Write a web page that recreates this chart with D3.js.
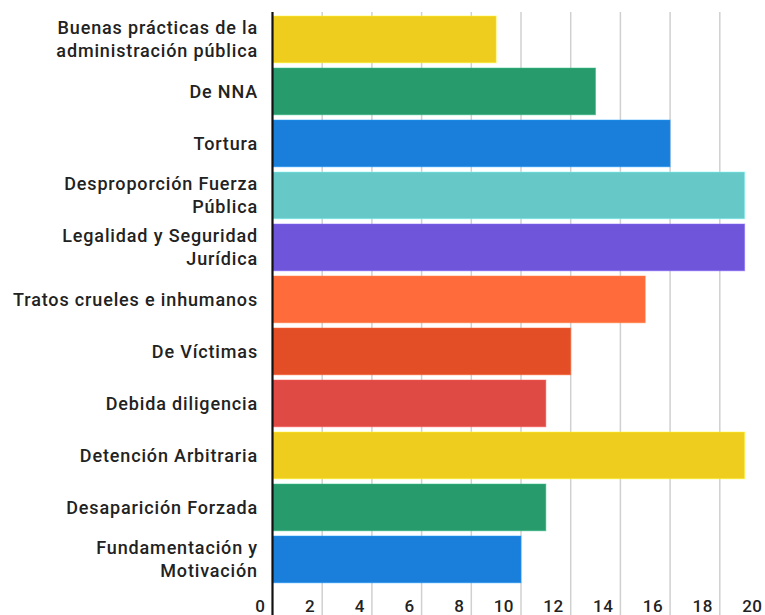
<!DOCTYPE html>
<html>
<head>
<meta charset="utf-8">
<script src="https://cdn.jsdelivr.net/npm/d3@7"></script>
<style>
    html, body { margin: 0; padding: 0; background: #fff; }
    svg { display: block; font-family: Roboto, "Noto Sans", sans-serif; }
    .cat-label { font-size: 18px; font-weight: 500; fill: #222; letter-spacing: 0.85px; }
    .tick-label { font-size: 17px; font-weight: 500; fill: #222; letter-spacing: 0.5px; }
</style>
</head>
<body>
<svg id="chart" width="765" height="615"></svg>
<script>
"use strict";

// categories, top to bottom; '\n' marks where the label wraps
const categories = [
    'Buenas prácticas de la\nadministración pública',
    'De NNA',
    'Tortura',
    'Desproporción Fuerza\nPública',
    'Legalidad y Seguridad\nJurídica',
    'Tratos crueles e inhumanos',
    'De Víctimas',
    'Debida diligencia',
    'Detención Arbitraria',
    'Desaparición Forzada',
    'Fundamentación y\nMotivación'
];
const values = [9, 13, 16, 19, 19, 15, 12, 11, 19, 11, 10];
const barColors = [
    '#efcd1e', '#289b6c', '#1a7fdb', '#67c8c8', '#6e55da', '#ff6b3a',
    '#e34e26', '#e04a45', '#efcd1e', '#289b6c', '#1a7fdb'
];
const tickValues = [0, 2, 4, 6, 8, 10, 12, 14, 16, 18, 20];

const HEIGHT = 615;
const AXIS_X = 272.5;
const TOP = 12;

const svg = d3.select('#chart');

const x = d3.scaleLinear().domain([0, 20]).range([AXIS_X, AXIS_X + 497]);
const y = d3.scaleBand()
    .domain(categories)
    .range([13.4, 585.4])
    .paddingInner(0.1)
    .paddingOuter(0.05);

// vertical gridlines
svg.append('g')
    .selectAll('line')
    .data(tickValues.filter(v => v > 0))
    .join('line')
    .attr('x1', d => x(d))
    .attr('x2', d => x(d))
    .attr('y1', TOP)
    .attr('y2', HEIGHT)
    .attr('stroke', '#d0d0d0')
    .attr('stroke-width', 1.5);

// tick labels sit just left of each gridline
svg.append('g')
    .selectAll('text')
    .data(tickValues)
    .join('text')
    .classed('tick-label', true)
    .attr('x', d => x(d) - 7)
    .attr('y', 612)
    .attr('text-anchor', 'end')
    .text(d => d);

// bars
svg.append('g')
    .selectAll('rect')
    .data(categories)
    .join('rect')
    .attr('x', x(0))
    .attr('y', d => y(d))
    .attr('width', (d, i) => x(values[i]) - x(0))
    .attr('height', y.bandwidth())
    .attr('fill', (d, i) => barColors[i])
    .attr('stroke', (d, i) => d3.color(barColors[i]).brighter(0.6))
    .attr('stroke-opacity', 0.5)
    .attr('stroke-width', 1);

// baseline axis
svg.append('line')
    .attr('x1', AXIS_X)
    .attr('x2', AXIS_X)
    .attr('y1', TOP)
    .attr('y2', HEIGHT)
    .attr('stroke', '#111')
    .attr('stroke-width', 2.2);

// category labels, right aligned
const LINE_HEIGHT = 23;
const labels = svg.append('g')
    .selectAll('text')
    .data(categories)
    .join('text')
    .classed('cat-label', true)
    .attr('text-anchor', 'end');

labels.each(function (d) {
    const lines = d.split('\n');
    const centre = y(d) + y.bandwidth() / 2;
    const firstY = centre - (lines.length - 1) * LINE_HEIGHT / 2;
    d3.select(this).selectAll('tspan')
        .data(lines)
        .join('tspan')
        .attr('x', 258)
        .attr('y', (l, i) => firstY + i * LINE_HEIGHT)
        .attr('dy', '0.35em')
        .text(l => l);
});
</script>
</body>
</html>
